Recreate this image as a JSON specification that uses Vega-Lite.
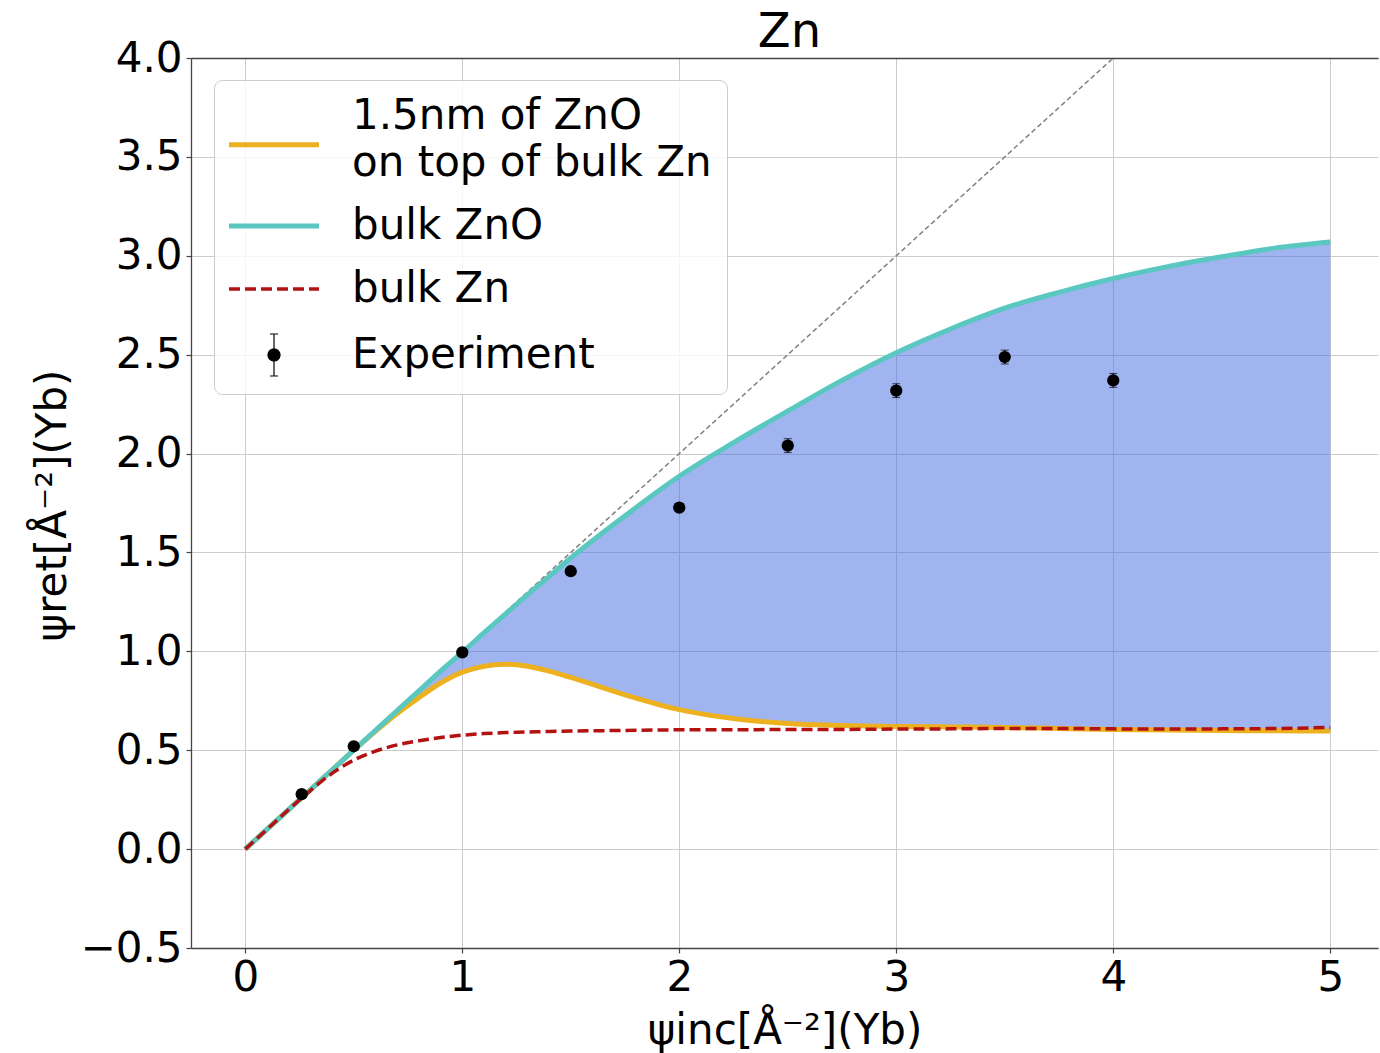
{
  "$schema": "https://vega.github.io/schema/vega-lite/v6.json",
  "autosize": {"type": "none"},
  "padding": {"left": 191, "top": 58, "right": 2, "bottom": 105},
  "width": 1187,
  "height": 890,
  "background": "white",
  "config": {
    "view": {"stroke": null},
    "font": "DejaVu Sans",
    "axis": {
      "labelFont": "DejaVu Sans", "labelFontSize": 42, "labelColor": "black",
      "titleFont": "DejaVu Sans", "titleFontSize": 42, "titleFontWeight": "normal", "titleColor": "black",
      "gridColor": "#cccccc", "gridWidth": 1,
      "domainColor": "#444444", "domainWidth": 1.3,
      "tickColor": "#444444", "tickSize": 5, "tickWidth": 1.2
    }
  },
  "datasets": {
    "curves": [
      {"x": 0.0, "film": 0.0, "zno": 0.0, "zn": 0.0},
      {"x": 0.1, "film": 0.1, "zno": 0.1, "zn": 0.1},
      {"x": 0.2, "film": 0.2, "zno": 0.2, "zn": 0.2},
      {"x": 0.3, "film": 0.3, "zno": 0.3, "zn": 0.296},
      {"x": 0.4, "film": 0.4, "zno": 0.4, "zn": 0.383},
      {"x": 0.5, "film": 0.5, "zno": 0.5, "zn": 0.45},
      {"x": 0.6, "film": 0.596, "zno": 0.6, "zn": 0.495},
      {"x": 0.7, "film": 0.686, "zno": 0.7, "zn": 0.527},
      {"x": 0.8, "film": 0.766, "zno": 0.8, "zn": 0.548},
      {"x": 0.9, "film": 0.84, "zno": 0.9, "zn": 0.564},
      {"x": 1.0, "film": 0.895, "zno": 0.995, "zn": 0.576},
      {"x": 1.1, "film": 0.925, "zno": 1.093, "zn": 0.584},
      {"x": 1.2, "film": 0.935, "zno": 1.19, "zn": 0.589},
      {"x": 1.3, "film": 0.925, "zno": 1.285, "zn": 0.592},
      {"x": 1.4, "film": 0.9, "zno": 1.379, "zn": 0.595},
      {"x": 1.5, "film": 0.868, "zno": 1.472, "zn": 0.597},
      {"x": 1.75, "film": 0.78, "zno": 1.685, "zn": 0.6},
      {"x": 2.0, "film": 0.705, "zno": 1.885, "zn": 0.603},
      {"x": 2.25, "film": 0.66, "zno": 2.055, "zn": 0.603},
      {"x": 2.5, "film": 0.635, "zno": 2.215, "zn": 0.605},
      {"x": 2.75, "film": 0.625, "zno": 2.37, "zn": 0.605},
      {"x": 3.0, "film": 0.62, "zno": 2.51, "zn": 0.607},
      {"x": 3.25, "film": 0.618, "zno": 2.63, "zn": 0.608},
      {"x": 3.5, "film": 0.615, "zno": 2.735, "zn": 0.61},
      {"x": 3.75, "film": 0.61, "zno": 2.815, "zn": 0.61},
      {"x": 4.0, "film": 0.605, "zno": 2.885, "zn": 0.608},
      {"x": 4.25, "film": 0.602, "zno": 2.945, "zn": 0.607},
      {"x": 4.5, "film": 0.6, "zno": 2.995, "zn": 0.608},
      {"x": 4.75, "film": 0.598, "zno": 3.04, "zn": 0.61},
      {"x": 5.0, "film": 0.597, "zno": 3.07, "zn": 0.615}
    ],
    "experiment": [
      {"x": 0.26, "y": 0.278, "lo": 0.258, "hi": 0.298},
      {"x": 0.5, "y": 0.52, "lo": 0.5, "hi": 0.54},
      {"x": 1.0, "y": 0.995, "lo": 0.975, "hi": 1.015},
      {"x": 1.5, "y": 1.405, "lo": 1.385, "hi": 1.425},
      {"x": 2.0, "y": 1.727, "lo": 1.707, "hi": 1.747},
      {"x": 2.5, "y": 2.04, "lo": 2.005, "hi": 2.075},
      {"x": 3.0, "y": 2.318, "lo": 2.283, "hi": 2.353},
      {"x": 3.5, "y": 2.488, "lo": 2.453, "hi": 2.523},
      {"x": 4.0, "y": 2.37, "lo": 2.335, "hi": 2.405}
    ],
    "diagonal": [
      {"x": 0, "y": 0},
      {"x": 4, "y": 4}
    ]
  },
  "resolve": {"axis": {"x": "independent"}},
  "layer": [
    {
      "data": {"name": "curves"},
      "mark": {"type": "area", "color": "#4169e1", "opacity": 0.5, "interpolate": "monotone"},
      "encoding": {
        "x": {"field": "x", "type": "quantitative", "scale": {"domain": [-0.25, 5.22], "nice": false, "zero": false},
              "axis": {"values": [0, 1, 2, 3, 4, 5], "format": "d", "grid": true, "labelPadding": 4, "title": "ψinc[Å⁻²](Yb)", "titleY": 95, "titleBaseline": "alphabetic"}},
        "y": {"field": "zno", "type": "quantitative", "scale": {"domain": [-0.5, 4.0], "nice": false, "zero": false},
              "axis": {"values": [-0.5, 0, 0.5, 1, 1.5, 2, 2.5, 3, 3.5, 4], "format": ".1f", "grid": true, "labelPadding": 4, "title": "ψret[Å⁻²](Yb)", "titleX": -126, "titleY": 447, "titleBaseline": "alphabetic", "titleAngle": -90, "titleAlign": "center"}},
        "y2": {"field": "film"}
      }
    },
    {
      "data": {"name": "diagonal"},
      "mark": {"type": "line", "color": "#808080", "strokeWidth": 1.5, "strokeDash": [5, 3]},
      "encoding": {
        "x": {"field": "x", "type": "quantitative", "axis": {"orient": "top", "labels": false, "ticks": false, "grid": false, "domain": true,
              "title": "Zn", "titleFontSize": 48, "titleX": 598, "titleY": -12, "titleBaseline": "alphabetic", "titleAlign": "center", "titleAngle": 0}},
        "y": {"field": "y", "type": "quantitative", "title": "ψret[Å⁻²](Yb)"}
      }
    },
    {
      "data": {"name": "curves"},
      "mark": {"type": "line", "strokeWidth": 5, "interpolate": "monotone"},
      "encoding": {
        "x": {"field": "x", "type": "quantitative", "axis": null},
        "y": {"field": "film", "type": "quantitative", "title": "ψret[Å⁻²](Yb)"},
        "color": {
          "datum": "film",
          "scale": {"domain": ["film", "zno", "zn", "exp"], "range": ["#edb120", "#5bc7c1", "#b31212", "black"]},
          "legend": {
            "orient": "none", "legendX": 23, "legendY": 22,
            "title": null,
            "symbolType": "stroke", "symbolSize": 8100, "symbolStrokeWidth": 5,
            "labelFont": "DejaVu Sans", "labelFontSize": 42, "labelColor": "black", "labelOffset": 34, "labelLimit": 0,
            "rowPadding": 21, "padding": 15,
            "fillColor": "rgba(255,255,255,0.8)", "strokeColor": "#cccccc", "cornerRadius": 8,
            "labelExpr": "datum.value == 'film' ? ['1.5nm of ZnO', 'on top of bulk Zn'] : datum.value == 'zno' ? 'bulk ZnO' : datum.value == 'zn' ? 'bulk Zn' : 'Experiment'",
            "encode": {
              "symbols": {"update": {
                "x": {"value": 45},
                "shape": {"signal": "datum.value == 'exp' ? 'M0,-0.467L0,0.467M-0.09,-0.467L0.09,-0.467M-0.09,0.467L0.09,0.467M-0.133,0A0.133,0.133,0,1,0,0.133,0A0.133,0.133,0,1,0,-0.133,0Z' : datum.value == 'film' ? 'M-1,0.64L1,0.64' : 'stroke'"},
                "strokeWidth": {"signal": "datum.value == 'exp' ? 1.2 : datum.value == 'zn' ? 3.5 : 5"},
                "strokeDash": {"signal": "datum.value == 'zn' ? [11, 5] : [1, 0]"},
                "fill": {"signal": "datum.value == 'exp' ? 'black' : 'transparent'"},
                "opacity": {"value": 1}
              }},
              "labels": {"update": {
                "x": {"value": 123},
                "lineHeight": {"value": 47}
              }}
            }
          }
        }
      }
    },
    {
      "data": {"name": "curves"},
      "mark": {"type": "line", "strokeWidth": 5, "interpolate": "monotone"},
      "encoding": {
        "x": {"field": "x", "type": "quantitative", "axis": null},
        "y": {"field": "zno", "type": "quantitative", "title": "ψret[Å⁻²](Yb)"},
        "color": {"datum": "zno"}
      }
    },
    {
      "data": {"name": "curves"},
      "mark": {"type": "line", "strokeWidth": 3.5, "strokeDash": [11, 5], "interpolate": "monotone"},
      "encoding": {
        "x": {"field": "x", "type": "quantitative", "axis": null},
        "y": {"field": "zn", "type": "quantitative", "title": "ψret[Å⁻²](Yb)"},
        "color": {"datum": "zn"}
      }
    },
    {
      "data": {"name": "experiment"},
      "mark": {"type": "errorbar", "color": "black", "ticks": {"size": 8, "color": "black"}, "rule": {"strokeWidth": 1.2}},
      "encoding": {
        "x": {"field": "x", "type": "quantitative", "axis": null},
        "y": {"field": "lo", "type": "quantitative", "title": "ψret[Å⁻²](Yb)"},
        "y2": {"field": "hi"}
      }
    },
    {
      "data": {"name": "experiment"},
      "mark": {"type": "point", "filled": true, "size": 150, "opacity": 1},
      "encoding": {
        "x": {"field": "x", "type": "quantitative", "axis": null},
        "y": {"field": "y", "type": "quantitative", "title": "ψret[Å⁻²](Yb)"},
        "color": {"datum": "exp"}
      }
    }
  ]
}
